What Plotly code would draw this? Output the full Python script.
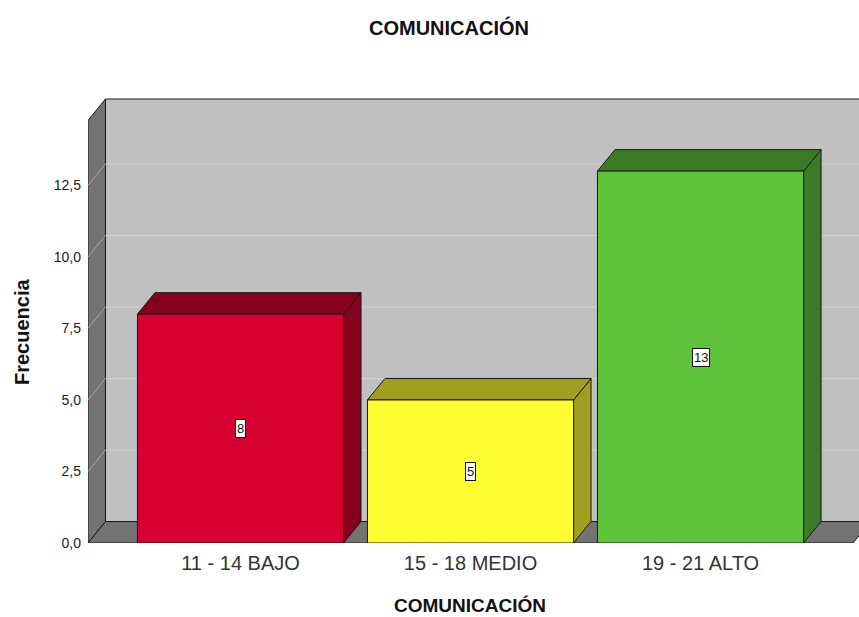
import plotly.graph_objects as go

# ---- data ----
categories = ["11 - 14 BAJO", "15 - 18 MEDIO", "19 - 21 ALTO"]
frecuencia = [8, 5, 13]
front_colors = ["#d5002f", "#ffff33", "#5ec33a"]
side_colors = ["#86001e", "#a09f22", "#3c7a25"]
y_ticks = [0, 2.5, 5, 7.5, 10, 12.5]
title_text = "COMUNICACIÓN"
y_title = "Frecuencia"

# ---- geometry (data units) ----
DX = 0.076      # depth offset along x (categories)
DY = 0.75       # depth offset along y (values)
HALF_W = 0.448  # half bar width
X0, X1 = -0.663, 2.663   # front plane x extent
XMAX = 2.689
WALL_TOP = 14.77
YMAX = 15.66

FONT = "Liberation Sans, Arial"

fig = go.Figure()

def poly(xs, ys, fill, line="#1a1a1a", width=1):
    fig.add_trace(go.Scatter(x=xs + [xs[0]], y=ys + [ys[0]], mode="lines",
                             fill="toself", fillcolor=fill,
                             line=dict(color=line, width=width),
                             hoverinfo="skip", showlegend=False))

def line(xs, ys, color, width=1):
    fig.add_trace(go.Scatter(x=xs, y=ys, mode="lines",
                             line=dict(color=color, width=width),
                             hoverinfo="skip", showlegend=False))

# back wall
poly([X0 + DX, X1 + DX, X1 + DX, X0 + DX],
     [DY, DY, WALL_TOP + DY, WALL_TOP + DY], "#c0c0c0")
# left wall
poly([X0, X0, X0 + DX, X0 + DX], [0, WALL_TOP, WALL_TOP + DY, DY], "#737373")
# floor
poly([X0, X1, X1 + DX, X0 + DX], [0, 0, DY, DY], "#737373")

# grid lines
for v in y_ticks[1:]:
    line([X0, X0 + DX], [v, v + DY], "#a8a8a8", 1)
    line([X0 + DX, X1 + DX], [v + DY, v + DY], "#d2d2d2", 1)

# bars
for i, (v, fc, sc) in enumerate(zip(frecuencia, front_colors, side_colors)):
    l, r = i - HALF_W, i + HALF_W
    poly([r, r, r + DX, r + DX], [0, v, v + DY, DY], sc)        # side
    poly([l, r, r + DX, l + DX], [v, v, v + DY, v + DY], sc)    # top
    poly([l, r, r, l], [0, 0, v, v], fc)                        # front

annotations = []
for i, v in enumerate(frecuencia):
    annotations.append(dict(x=i, y=v / 2, xref="x", yref="y", text=str(v),
                            showarrow=False, bgcolor="white", bordercolor="#111",
                            borderwidth=1, borderpad=1,
                            font=dict(size=13, color="#111", family=FONT)))

annotations.append(dict(x=(470 - 88) / 771, y=(543 - 605) / 448, xref="paper", yref="paper",
                        xanchor="center", yanchor="middle",
                        text="<b>" + title_text + "</b>", showarrow=False,
                        font=dict(size=19, color="#111", family=FONT)))
annotations.append(dict(x=(22 - 88) / 771, y=(543 - 332) / 448, xref="paper", yref="paper",
                        xanchor="center", yanchor="middle",
                        text="<b>" + y_title + "</b>", showarrow=False, textangle=-90,
                        font=dict(size=20, color="#111", family=FONT)))

fig.update_layout(
    width=859, height=617,
    margin=dict(l=88, r=0, t=95, b=74),
    paper_bgcolor="white", plot_bgcolor="white",
    separators=", ",
    title=dict(text="<b>" + title_text + "</b>", x=449 / 859, xref="container", xanchor="center",
               y=1 - 28 / 617, yref="container", yanchor="middle",
               font=dict(size=20, color="#111", family=FONT)),
    xaxis=dict(range=[X0, XMAX], tickvals=list(range(len(categories))), ticktext=categories,
               showgrid=False, zeroline=False, showline=False, ticks="",
               ticklabelstandoff=6,
               tickfont=dict(size=20, color="#333", family=FONT),
               fixedrange=True),
    yaxis=dict(range=[0, YMAX], tickvals=y_ticks, tickformat=".1f",
               showgrid=False, zeroline=False, showline=False, ticks="",
               ticklabelstandoff=6,
               tickfont=dict(size=14, color="#222", family=FONT),
               fixedrange=True),
    annotations=annotations,
    showlegend=False,
)

fig.write_html("out.html",
               config={"displayModeBar": False},
               post_script="document.body.style.margin='0';"
                           "document.documentElement.style.overflow='hidden';")
